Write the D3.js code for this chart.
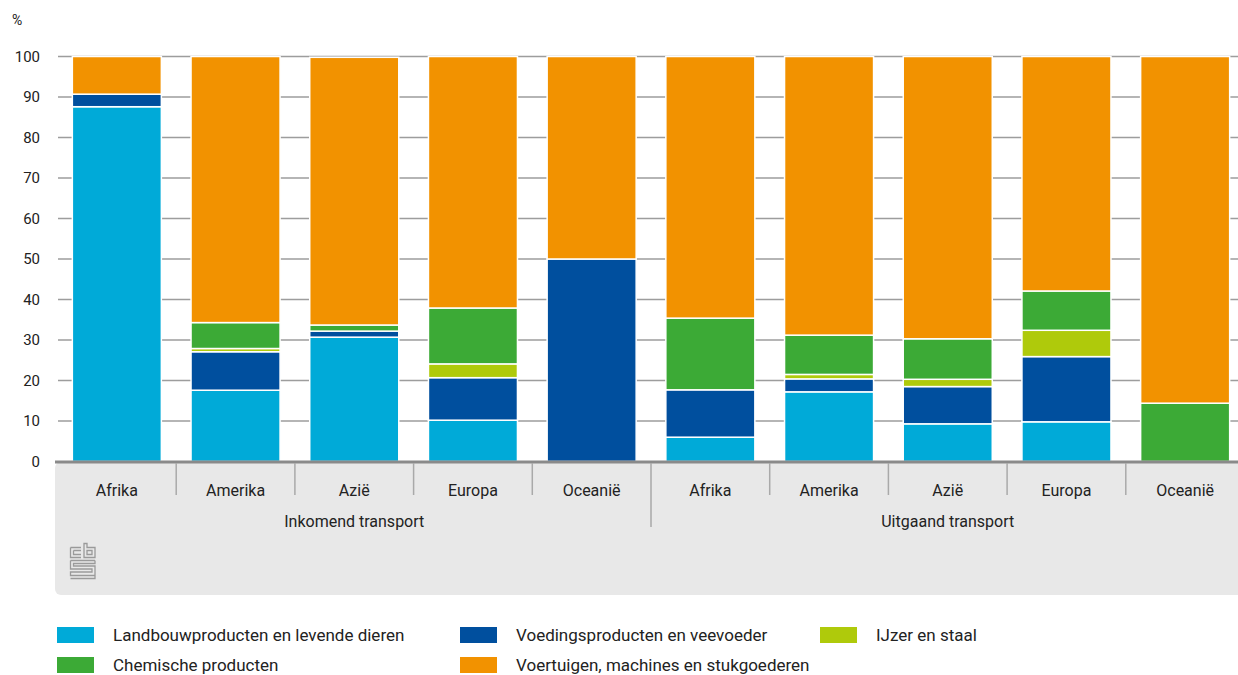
<!DOCTYPE html>
<html>
<head>
<meta charset="utf-8">
<script src="https://cdn.jsdelivr.net/npm/d3@7"></script>
<style>
  body { margin: 0; background: #fff; }
  svg text { font-family: "Liberation Sans Narrow", "Roboto", sans-serif; fill: #222; }
</style>
</head>
<body>
<svg id="chart" width="1238" height="675"></svg>
<script>
'use strict'

// categorieen en groepen
var regions = ['Afrika', 'Amerika', 'Azië', 'Europa', 'Oceanië']
var groups = ['Inkomend transport', 'Uitgaand transport']
var yTicks = [0, 10, 20, 30, 40, 50, 60, 70, 80, 90, 100]

// waarden (%) per staaf: eerst inkomend, dan uitgaand
var landbouw   = [87.6, 17.6, 30.7, 10.2, 0,    6.0, 17.2,  9.3,  9.8,  0]
var voeding    = [ 3.1,  9.5,  1.5, 10.5, 50.0, 11.7, 3.2,  9.2, 16.1,  0]
var ijzer      = [ 0,    0.8,  0,    3.4, 0,    0,    1.1,  1.8,  6.5,  0]
var chemisch   = [ 0,    6.4,  1.5, 13.8, 0,    17.7, 9.7, 10.0,  9.7, 14.4]
var voertuigen = [ 9.3, 65.7, 66.1, 62.1, 50.0, 64.6, 68.8, 69.7, 57.9, 85.6]

var seriesNames = ['Landbouwproducten en levende dieren', 'Voedingsproducten en veevoeder',
  'IJzer en staal', 'Chemische producten', 'Voertuigen, machines en stukgoederen']
var seriesColors = ['#00aad8', '#004f9e', '#afca0b', '#3caa36', '#f29200']
var seriesValues = [landbouw, voeding, ijzer, chemisch, voertuigen]

var svg = d3.select('#chart')

// tabel voor d3.stack
var table = []
groups.forEach((g, gi) => {
  regions.forEach((r, ri) => {
    var i = gi * regions.length + ri
    var row = {key: g + '|' + r, region: r, group: g}
    seriesNames.forEach((s, si) => row[s] = seriesValues[si][i])
    table.push(row)
  })
})

var stacked = d3.stack().keys(seriesNames)(table)

var x = d3.scaleBand()
  .domain(table.map(d => d.key))
  .range([57.5, 1244.5])
  .paddingInner(0.25)
  .paddingOuter(0.125)

var y = d3.scaleLinear()
  .domain([0, 100])
  .range([461.5, 56.5])

// rasterlijnen
svg.append('g')
  .selectAll('line')
  .data(yTicks.filter(t => t > 0))
  .enter().append('line')
    .attr('x1', 58).attr('x2', 1238)
    .attr('y1', d => y(d)).attr('y2', d => y(d))
    .attr('stroke', '#9d9d9d')
    .attr('stroke-width', 1.5)

// y-as labels
svg.append('g')
  .selectAll('text')
  .data(yTicks)
  .enter().append('text')
    .attr('x', 40)
    .attr('y', d => y(d))
    .attr('dy', '0.35em')
    .attr('text-anchor', 'end')
    .style('font-size', '15px')
    .text(d => d)

svg.append('text')
  .attr('x', 12).attr('y', 20)
  .attr('dy', '0.35em')
  .style('font-size', '14px')
  .text('%')

// staven
svg.append('g')
  .selectAll('g')
  .data(stacked)
  .enter().append('g')
    .attr('fill', (d, i) => seriesColors[i])
  .selectAll('rect')
  .data(d => d.filter(p => p[1] - p[0] > 0))
  .enter().append('rect')
    .attr('x', d => x(d.data.key))
    .attr('width', x.bandwidth())
    .attr('y', d => y(d[1]))
    .attr('height', d => y(d[0]) - y(d[1]))
    .attr('stroke', '#fff')
    .attr('stroke-width', 1.5)

// grijze x-as strook
var step = x.step()
var gap = step - x.bandwidth()
svg.append('rect')
  .attr('x', 55).attr('y', 462)
  .attr('width', 1200).attr('height', 133)
  .attr('rx', 6)
  .attr('fill', '#e8e8e8')

svg.append('line')
  .attr('x1', 55).attr('x2', 1238)
  .attr('y1', 462).attr('y2', 462)
  .attr('stroke', '#8a8a8a')
  .attr('stroke-width', 3)

// scheidingslijnen tussen categorieen
svg.append('g')
  .selectAll('line')
  .data(table.slice(1))
  .enter().append('line')
    .attr('x1', d => x(d.key) - gap / 2)
    .attr('x2', d => x(d.key) - gap / 2)
    .attr('y1', 463)
    .attr('y2', (d, i) => (i + 1) % regions.length == 0 ? 527 : 495)
    .attr('stroke', '#a9a9a9')
    .attr('stroke-width', 1.5)

svg.append('g')
  .selectAll('text')
  .data(table)
  .enter().append('text')
    .attr('x', d => x(d.key) + x.bandwidth() / 2)
    .attr('y', 490)
    .attr('dy', '0.35em')
    .attr('text-anchor', 'middle')
    .style('font-size', '16px')
    .text(d => d.region)

svg.append('g')
  .selectAll('text')
  .data(groups)
  .enter().append('text')
    .attr('x', g => {
      var keys = table.filter(d => d.group == g).map(d => d.key)
      return (x(keys[0]) - gap / 2 + x(keys[keys.length - 1]) + x.bandwidth() + gap / 2) / 2
    })
    .attr('y', 521)
    .attr('dy', '0.35em')
    .attr('text-anchor', 'middle')
    .style('font-size', '16px')
    .text(g => g)

// cbs logo (benadering)
var logo = svg.append('g')
  .attr('transform', 'translate(70,543)')
  .attr('fill', 'none')
  .attr('stroke', '#9a9a9a')
  .attr('stroke-width', 1.3)
logo.append('path').attr('d', 'M0.5,4.5 H11 M0.5,4.5 V14.5 H11 M3.5,7.5 H11 M3.5,7.5 V11.5 H11')
logo.append('path').attr('d', 'M14,0.5 V14.5 H25 V4.5 H17 V0.5 Z M17,7.5 H22 V11.5 H17 Z')
logo.append('path').attr('d', 'M0.5,17.5 H25 M0.5,17.5 V26 H22 V29 H0.5 V32.5 H25 V23 H3.5 V20.5 H25 V17.5 M0.5,35.5 H25 V32.5')

// legenda
var legendPos = [[57, 635], [460, 635], [820, 635], [57, 665], [460, 665]]
var legend = svg.append('g')
  .selectAll('g')
  .data(seriesNames)
  .enter().append('g')
    .attr('transform', (d, i) => 'translate(' + legendPos[i][0] + ',' + legendPos[i][1] + ')')

legend.append('rect')
  .attr('x', 0).attr('y', -8)
  .attr('width', 37).attr('height', 16)
  .attr('fill', (d, i) => seriesColors[i])

legend.append('text')
  .attr('x', 56).attr('y', 0)
  .attr('dy', '0.35em')
  .style('font-size', '17px')
  .text(d => d)
</script>
</body>
</html>
